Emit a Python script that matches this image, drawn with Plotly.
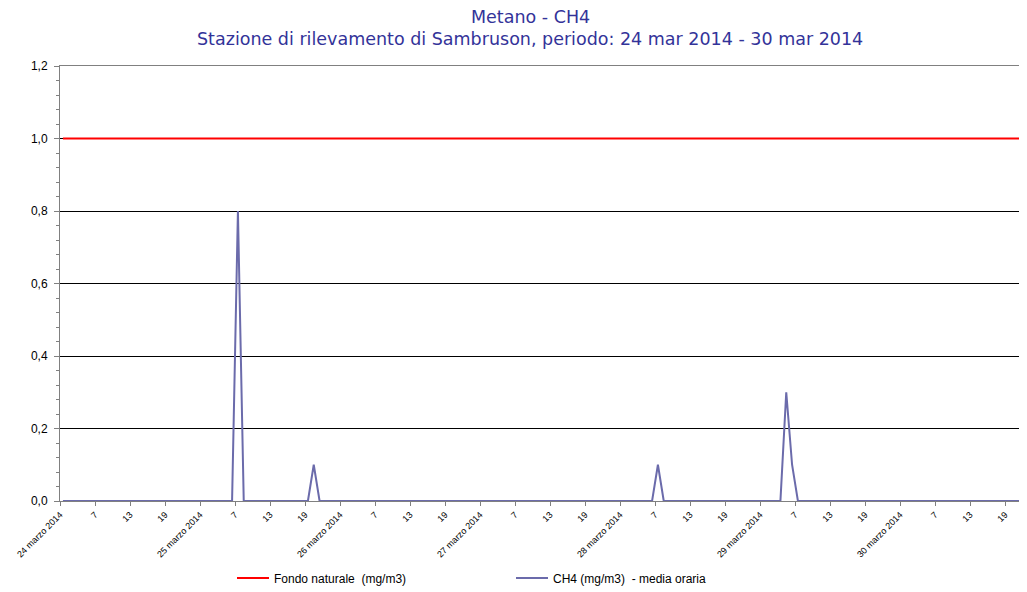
import plotly.graph_objects as go

# ---- data ----
days = ["24 marzo 2014", "25 marzo 2014", "26 marzo 2014", "27 marzo 2014",
        "28 marzo 2014", "29 marzo 2014", "30 marzo 2014"]
hour_labels = ["7", "13", "19"]

# CH4 hourly means (mg/m3), 24 values per day (hours 1..24)
ch4_24 = [0, 0, 0, 0, 0, 0, 0, 0, 0, 0, 0, 0, 0, 0, 0, 0, 0, 0, 0, 0, 0, 0, 0, 0]
ch4_25 = [0, 0, 0, 0, 0, 0, 0.8, 0, 0, 0, 0, 0, 0, 0, 0, 0, 0, 0, 0, 0.1, 0, 0, 0, 0]
ch4_26 = [0, 0, 0, 0, 0, 0, 0, 0, 0, 0, 0, 0, 0, 0, 0, 0, 0, 0, 0, 0, 0, 0, 0, 0]
ch4_27 = [0, 0, 0, 0, 0, 0, 0, 0, 0, 0, 0, 0, 0, 0, 0, 0, 0, 0, 0, 0, 0, 0, 0, 0]
ch4_28 = [0, 0, 0, 0, 0, 0, 0.1, 0, 0, 0, 0, 0, 0, 0, 0, 0, 0, 0, 0, 0, 0, 0, 0, 0]
ch4_29 = [0, 0, 0, 0, 0.3, 0.1, 0, 0, 0, 0, 0, 0, 0, 0, 0, 0, 0, 0, 0, 0, 0, 0, 0, 0]
ch4_30 = [0, 0, 0, 0, 0, 0, 0, 0, 0, 0, 0, 0, 0, 0, 0, 0, 0, 0, 0, 0, 0, 0, 0, 0]
fondo_naturale = 1.0

ch4 = ch4_24 + ch4_25 + ch4_26 + ch4_27 + ch4_28 + ch4_29 + ch4_30
x = list(range(len(ch4)))
fondo = [fondo_naturale for _ in x]

# tick labels every 6 hours (category boundaries)
tickvals, ticktext = [], []
for d, day in enumerate(days):
    for k, lab in enumerate([day] + hour_labels):
        tickvals.append(d * 24 + k * 6 - 0.5)
        ticktext.append(lab)

# page has an 8px body margin: figure is laid out in page coords minus 8
OFF = 8
W, H = 1027 - OFF, 592 - OFF
ML, MR, MT = 60 - OFF, 0, 66 - OFF
MB = H - (501 - OFF)
plot_w = W - ML - MR
plot_h = H - MT - MB
px_per_cat = 35 / 6.0

fig = go.Figure()
fig.add_trace(go.Scatter(x=x, y=fondo, mode="lines", name="Fondo naturale  (mg/m3)",
                         line=dict(color="#ff0000", width=2)))
fig.add_trace(go.Scatter(x=x, y=ch4, mode="lines", name="CH4 (mg/m3)  - media oraria",
                         line=dict(color="#6b6bab", width=2)))

title_color = "#333399"
title_font = dict(family="DejaVu Sans, Verdana", size=17.5, color=title_color)
fig.add_annotation(text="Metano - CH4", xref="paper", yref="paper",
                   x=(530 - 60) / plot_w, y=(501 - 17) / plot_h, showarrow=False,
                   xanchor="center", yanchor="middle", borderpad=0, font=title_font)
fig.add_annotation(text="Stazione di rilevamento di Sambruson, periodo: 24 mar 2014 - 30 mar 2014",
                   xref="paper", yref="paper",
                   x=(530 - 60) / plot_w, y=(501 - 39) / plot_h, showarrow=False,
                   xanchor="center", yanchor="middle", borderpad=0, font=title_font)

fig.update_layout(
    width=W, height=H,
    margin=dict(l=ML, r=MR, t=MT, b=MB, autoexpand=False),
    paper_bgcolor="white", plot_bgcolor="white",
    separators=",.",
    showlegend=True,
    legend=dict(orientation="h", xref="container", yref="container",
                x=(232 - OFF) / W, y=1 - (578 - OFF) / H,
                xanchor="left", yanchor="middle",
                font=dict(family="Liberation Sans, Arial", size=12, color="black"),
                entrywidth=232, entrywidthmode="pixels", itemwidth=32),
    xaxis=dict(range=[-0.5, -0.5 + plot_w / px_per_cat], automargin=False,
               tickmode="array", tickvals=tickvals, ticktext=ticktext,
               tickangle=-45, ticks="outside", ticklen=4, tickcolor="#808080",
               tickfont=dict(family="Liberation Sans Narrow, Liberation Sans, Arial", size=9, color="black"),
               showgrid=False, zeroline=False,
               showline=True, linecolor="#808080", linewidth=1, mirror=True,
               layer="below traces"),
    yaxis=dict(range=[0, 1.2], automargin=False, tickmode="linear", tick0=0, dtick=0.2, tickformat=".1f",
               ticks="outside", ticklen=5, tickcolor="#808080", ticklabelstandoff=4,
               tickfont=dict(family="Liberation Sans, Arial", size=12, color="black"),
               showgrid=True, gridcolor="black", gridwidth=1, zeroline=False,
               showline=True, linecolor="#808080", linewidth=1,
               minor=dict(dtick=0.04, ticks="outside", ticklen=3, tickcolor="#808080", showgrid=False),
               layer="below traces"),
)

fig.write_html("out.html")
